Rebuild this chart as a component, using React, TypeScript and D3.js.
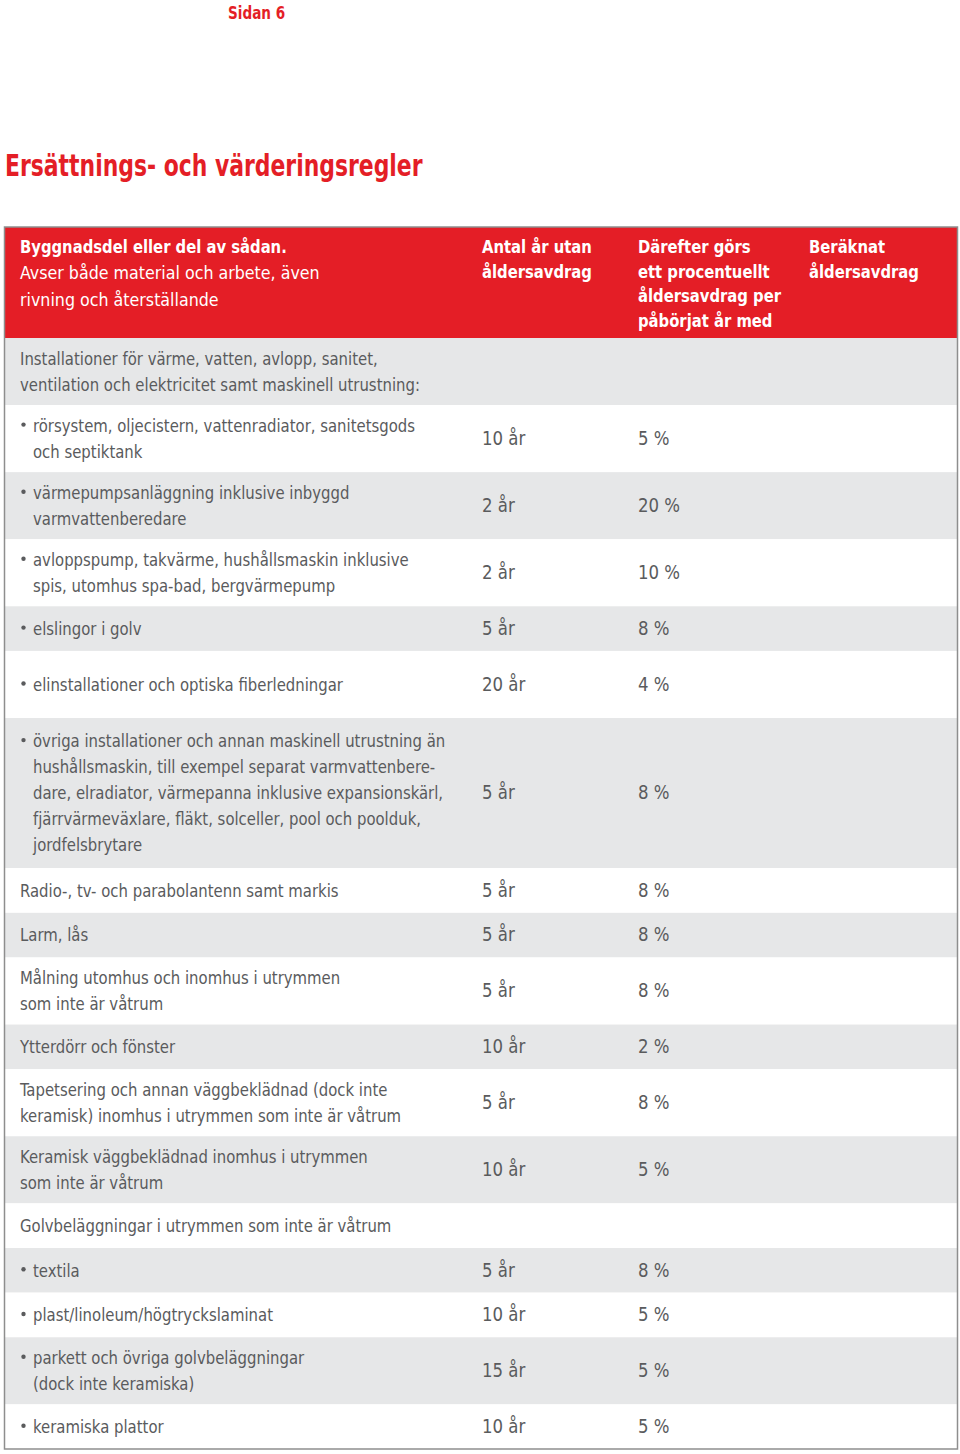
import React from "react";
import * as d3 from "d3";

// ---------- DATA ----------
const pageLabel = "Sidan 6";
const titleText = "Ersättnings- och värderingsregler";

const headerCol1Bold = "Byggnadsdel eller del av sådan.";
const headerCol1Lines = ["Avser både material och arbete, även", "rivning och återställande"];
const headerCol2Lines = ["Antal år utan", "åldersavdrag"];
const headerCol3Lines = ["Därefter görs", "ett procentuellt", "åldersavdrag per", "påbörjat år med"];
const headerCol4Lines = ["Beräknat", "åldersavdrag"];

const rowLabels: string[][] = [
  ["Installationer för värme, vatten, avlopp, sanitet,", "ventilation och elektricitet samt maskinell utrustning:"],
  ["rörsystem, oljecistern, vattenradiator, sanitetsgods", "och septiktank"],
  ["värmepumpsanläggning inklusive inbyggd", "varmvattenberedare"],
  ["avloppspump, takvärme, hushållsmaskin inklusive", "spis, utomhus spa-bad, bergvärmepump"],
  ["elslingor i golv"],
  ["elinstallationer och optiska fiberledningar"],
  [
    "övriga installationer och annan maskinell utrustning än",
    "hushållsmaskin, till exempel separat varmvattenbere-",
    "dare, elradiator, värmepanna inklusive expansionskärl,",
    "fjärrvärmeväxlare, fläkt, solceller, pool och poolduk,",
    "jordfelsbrytare",
  ],
  ["Radio-, tv- och parabolantenn samt markis"],
  ["Larm, lås"],
  ["Målning utomhus och inomhus i utrymmen", "som inte är våtrum"],
  ["Ytterdörr och fönster"],
  ["Tapetsering och annan väggbeklädnad (dock inte", "keramisk) inomhus i utrymmen som inte är våtrum"],
  ["Keramisk väggbeklädnad inomhus i utrymmen", "som inte är våtrum"],
  ["Golvbeläggningar i utrymmen som inte är våtrum"],
  ["textila"],
  ["plast/linoleum/högtryckslaminat"],
  ["parkett och övriga golvbeläggningar", "(dock inte keramiska)"],
  ["keramiska plattor"],
];

const rowBullets: boolean[] = [
  false, true, true, true, true, true, true,
  false, false, false, false, false, false, false,
  true, true, true, true,
];

const yearsValues: (number | null)[] = [
  null, 10, 2, 2, 5, 20, 5, 5, 5, 5, 10, 5, 10, null, 5, 10, 15, 10,
];

const percentValues: (number | null)[] = [
  null, 5, 20, 10, 8, 4, 8, 8, 8, 8, 2, 8, 5, null, 8, 5, 5, 5,
];

// ---------- LAYOUT ----------
const W = 960;
const H = 1454;
const RED = "#e41e26";
const GRAY_ROW = "#e6e7e8";
const TEXT = "#5a5b5d";
const FONT = "'DejaVu Sans Condensed', 'DejaVu Sans', sans-serif";

const rowHeights = [67, 67, 67, 67, 44.6, 67, 150, 44.6, 44.6, 67, 44.6, 67, 67, 44.6, 44.6, 44.6, 67, 44.6];

const tableLeft = 4.5;
const tableRight = 957.5;
const tableTop = 227;
const headerBottom = 338;
const tableBottom = 1449;

const colX = { label: 20, bulletText: 33, years: 482, percent: 638, calc: 809 };

type TProps = {
  x: number; y: number; sx: number; size: number; fill: string; weight?: number; children: React.ReactNode;
};
function T({ x, y, sx, size, fill, weight = 400, children }: TProps) {
  return (
    <text transform={`translate(${x},${y}) scale(${sx},1)`} fill={fill} fontSize={size} fontWeight={weight}>
      {children}
    </text>
  );
}

export default function App() {
  const ends = Array.from(d3.cumsum(rowHeights));
  const starts = ends.map((e, i) => e - rowHeights[i]);
  const y = d3.scaleLinear().domain([0, ends[ends.length - 1]]).range([headerBottom, tableBottom]);
  const bodyFs = 18;
  const lh = 26;
  const yrFmt = (v: number) => `${v}\u00a0år`;
  const pctFmt = (v: number) => `${d3.format("d")(v)}\u00a0%`;

  return (
    <svg width={W} height={H} viewBox={`0 0 ${W} ${H}`} style={{ display: "block", position: "absolute", left: 0, top: 0 }} fontFamily={FONT}>
      <rect x={0} y={0} width={W} height={H} fill="#fff" />
      <T x={228} y={18.5} sx={0.84} size={18} fill={RED} weight={700}>{pageLabel}</T>
      <T x={5} y={176} sx={0.812} size={30} fill={RED} weight={700}>{titleText}</T>

      {/* header */}
      <rect x={tableLeft} y={tableTop} width={tableRight - tableLeft} height={headerBottom - tableTop} fill={RED} />
      <T x={colX.label} y={253} sx={0.89} size={18.5} fill="#fff" weight={700}>{headerCol1Bold}</T>
      {headerCol1Lines.map((t, i) => (
        <T key={"h1" + i} x={colX.label} y={279 + i * 26.5} sx={0.955} size={18.5} fill="#fff">{t}</T>
      ))}
      {headerCol2Lines.map((t, i) => (
        <T key={"h2" + i} x={colX.years} y={253 + i * 24.5} sx={0.89} size={18.5} fill="#fff" weight={700}>{t}</T>
      ))}
      {headerCol3Lines.map((t, i) => (
        <T key={"h3" + i} x={colX.percent} y={253 + i * 24.5} sx={0.89} size={18.5} fill="#fff" weight={700}>{t}</T>
      ))}
      {headerCol4Lines.map((t, i) => (
        <T key={"h4" + i} x={colX.calc} y={253 + i * 24.5} sx={0.89} size={18.5} fill="#fff" weight={700}>{t}</T>
      ))}

      {/* rows */}
      {rowLabels.map((lines, i) => {
        const y0 = y(starts[i]);
        const y1 = y(ends[i]);
        const cy = (y0 + y1) / 2;
        const firstC = cy - ((lines.length - 1) * lh) / 2;
        const tx = rowBullets[i] ? colX.bulletText : colX.label;
        return (
          <g key={"r" + i}>
            <rect x={tableLeft} y={y0} width={tableRight - tableLeft} height={y1 - y0} fill={i % 2 === 0 ? GRAY_ROW : "#fff"} />
            {rowBullets[i] && <circle cx={23.5} cy={firstC - 1} r={2.2} fill={TEXT} />}
            {lines.map((t, j) => (
              <T key={j} x={tx} y={firstC + j * lh + 6.3} sx={0.92} size={bodyFs} fill={TEXT}>{t}</T>
            ))}
            {yearsValues[i] != null && (
              <T x={colX.years} y={cy + 6.3} sx={0.97} size={bodyFs + 1} fill={TEXT}>{yrFmt(yearsValues[i] as number)}</T>
            )}
            {percentValues[i] != null && (
              <T x={colX.percent} y={cy + 6.3} sx={0.97} size={bodyFs + 1} fill={TEXT}>{pctFmt(percentValues[i] as number)}</T>
            )}
          </g>
        );
      })}

      {/* outer border */}
      <rect x={tableLeft} y={tableTop} width={tableRight - tableLeft} height={tableBottom - tableTop} fill="none" stroke="#8e8e8e" strokeWidth={1.5} />
    </svg>
  );
}
